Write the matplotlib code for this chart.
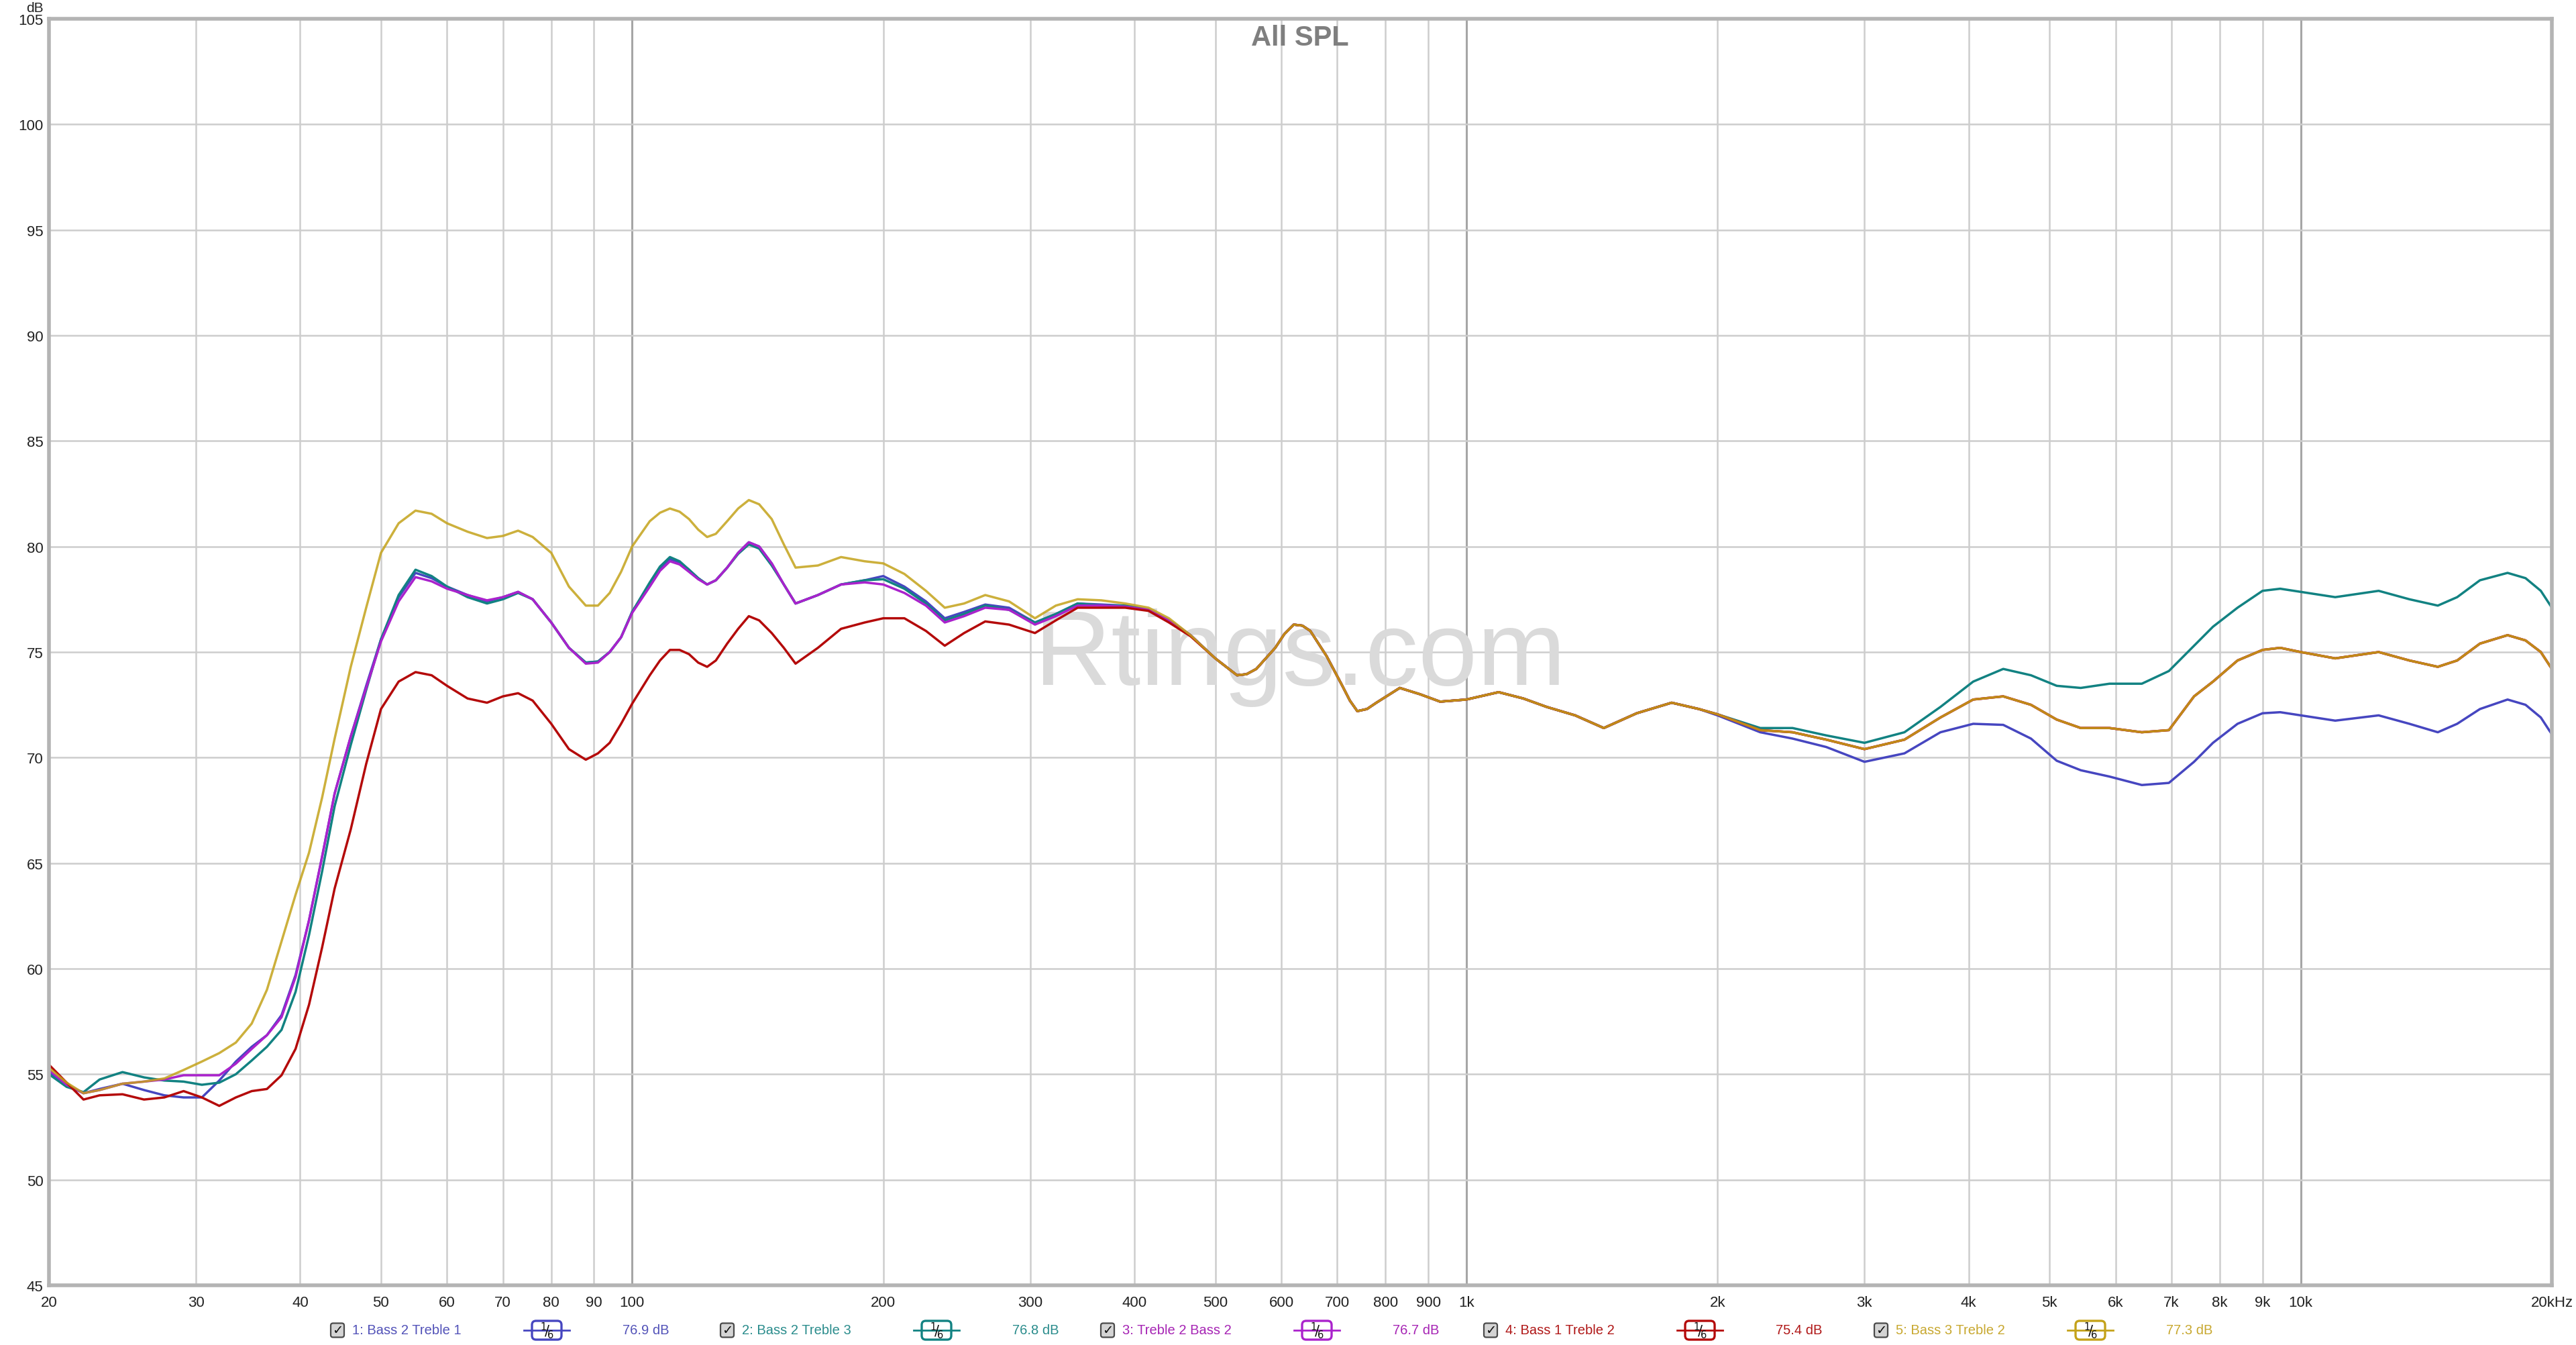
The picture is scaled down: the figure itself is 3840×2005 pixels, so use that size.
import matplotlib
matplotlib.use('Agg')
import matplotlib.pyplot as plt
from matplotlib.patches import FancyBboxPatch
from matplotlib.lines import Line2D
from matplotlib.ticker import FixedLocator, NullLocator

W, H = 3840, 2006
sans = ['Liberation Sans', 'DejaVu Sans']

# frequency points (Hz)
freq_low = [20, 21, 22, 23, 24.5, 26, 27.5, 29, 30.5, 32, 33.5, 35, 36.5, 38, 39.5,
            41, 42.5, 44, 46, 48, 50, 52.5, 55, 57.5, 60,
            63.5, 67, 70, 73, 76, 80, 84, 88, 91, 94,
            97, 100, 105, 108, 111, 114, 117, 120, 123, 126, 130, 134, 138, 142, 147, 152, 157,
            167, 178, 190, 200, 212, 225, 237, 250, 265, 283,
            304, 322, 342, 365, 390, 416, 440, 467]
freq_mid = [500, 531, 545, 560, 590, 605, 621, 636, 650, 680, 710, 725, 740, 760, 780, 832, 880,
            930, 1000, 1093, 1170, 1248, 1350, 1461, 1600, 1762, 1900]
freq_high = [2000, 2250, 2460, 2700, 3000, 3350, 3700, 4050, 4400, 4750,
             5100, 5450, 5900, 6450, 6950, 7450, 7850, 8400, 9000, 9450,
             10000, 11000, 12400, 13500, 14600, 15400, 16400, 17700, 18600, 19400, 20000]
freqs = freq_low + freq_mid + freq_high

# all five curves coincide in the mid band
shared_mid = [74.7, 73.9, 73.95, 74.2, 75.2, 75.85, 76.3, 76.25, 76.0, 74.8, 73.4, 72.7, 72.2,
              72.3, 72.6, 73.3, 73.0, 72.65, 72.75, 73.1, 72.8, 72.4, 72.0, 71.4, 72.1, 72.6, 72.3]

blue_low = [55.1, 54.5, 54.1, 54.3, 54.55, 54.25, 54.0, 53.9, 53.9, 54.7, 55.6, 56.3, 56.85, 57.8, 59.7,
            62.3, 65.3, 68.3, 71.0, 73.4, 75.6, 77.6, 78.75, 78.5, 78.1,
            77.7, 77.4, 77.6, 77.85, 77.5, 76.4, 75.2, 74.5, 74.55, 75.0,
            75.7, 76.9, 78.2, 78.95, 79.4, 79.25, 78.9, 78.5, 78.2, 78.4, 79.0, 79.7, 80.2, 80.0, 79.2, 78.2, 77.3,
            77.7, 78.2, 78.4, 78.6, 78.1, 77.4, 76.6, 76.9, 77.25, 77.1,
            76.4, 76.8, 77.3, 77.25, 77.2, 77.0, 76.5, 75.8]
teal_low = [55.0, 54.4, 54.15, 54.75, 55.1, 54.85, 54.7, 54.65, 54.5, 54.6, 55.0, 55.65, 56.3, 57.1, 58.9,
            61.6, 64.6, 67.7, 70.6, 73.2, 75.6, 77.7, 78.9, 78.6, 78.1,
            77.6, 77.3, 77.5, 77.8, 77.5, 76.4, 75.2, 74.5, 74.55, 75.0,
            75.7, 76.9, 78.3, 79.05, 79.5, 79.3, 78.9, 78.5, 78.2, 78.4, 79.0, 79.65, 80.1, 79.9, 79.1, 78.2, 77.3,
            77.7, 78.2, 78.4, 78.45, 78.0, 77.3, 76.5, 76.8, 77.2, 77.0,
            76.4, 76.8, 77.3, 77.2, 77.2, 77.0, 76.5, 75.8]
magenta_low = [55.2, 54.5, 54.1, 54.25, 54.55, 54.65, 54.75, 54.95, 54.95, 54.95, 55.5, 56.2, 56.85, 57.7, 59.6,
               62.3, 65.3, 68.3, 71.0, 73.3, 75.5, 77.4, 78.55, 78.35, 78.0,
               77.7, 77.45, 77.6, 77.85, 77.5, 76.4, 75.2, 74.45, 74.5, 75.0,
               75.7, 76.85, 78.1, 78.85, 79.3, 79.15, 78.8, 78.45, 78.2, 78.4, 79.0, 79.7, 80.2, 80.0, 79.2, 78.2, 77.3,
               77.7, 78.2, 78.3, 78.2, 77.8, 77.2, 76.4, 76.7, 77.1, 77.0,
               76.3, 76.7, 77.2, 77.2, 77.15, 77.0, 76.5, 75.8]
red_low = [55.45, 54.6, 53.8, 54.0, 54.05, 53.8, 53.9, 54.2, 53.9, 53.5, 53.9, 54.2, 54.3, 54.95, 56.2,
           58.3, 61.0, 63.8, 66.6, 69.7, 72.3, 73.6, 74.05, 73.9, 73.4,
           72.8, 72.6, 72.9, 73.05, 72.7, 71.6, 70.4, 69.9, 70.2, 70.7,
           71.6, 72.55, 73.9, 74.6, 75.1, 75.1, 74.9, 74.5, 74.3, 74.6, 75.4, 76.1, 76.7, 76.5, 75.9, 75.2, 74.45,
           75.2, 76.1, 76.4, 76.6, 76.6, 76.0, 75.3, 75.9, 76.45, 76.3,
           75.9, 76.5, 77.1, 77.1, 77.1, 76.95, 76.4, 75.75]
gold_low = [55.3, 54.6, 54.1, 54.25, 54.55, 54.65, 54.8, 55.2, 55.6, 56.0, 56.5, 57.4, 59.0, 61.3, 63.5,
            65.5, 68.1, 70.9, 74.3, 77.1, 79.7, 81.1, 81.7, 81.55, 81.1,
            80.7, 80.4, 80.5, 80.75, 80.45, 79.7, 78.1, 77.2, 77.2, 77.8,
            78.8, 80.0, 81.2, 81.6, 81.8, 81.65, 81.3, 80.8, 80.45, 80.6, 81.2, 81.8, 82.2, 82.0, 81.3, 80.1, 79.0,
            79.1, 79.5, 79.3, 79.2, 78.7, 77.9, 77.1, 77.3, 77.7, 77.4,
            76.6, 77.2, 77.5, 77.45, 77.3, 77.1, 76.6, 75.8]

treble1_high = [72.0, 71.2, 70.9, 70.5, 69.8, 70.2, 71.2, 71.6, 71.55, 70.9,
                69.85, 69.4, 69.1, 68.7, 68.8, 69.8, 70.7, 71.6, 72.1, 72.15,
                72.0, 71.75, 72.0, 71.6, 71.2, 71.6, 72.3, 72.75, 72.5, 71.9, 71.1]
treble3_high = [72.05, 71.4, 71.4, 71.05, 70.7, 71.2, 72.4, 73.6, 74.2, 73.9,
                73.4, 73.3, 73.5, 73.5, 74.1, 75.3, 76.2, 77.1, 77.9, 78.0,
                77.85, 77.6, 77.9, 77.5, 77.2, 77.6, 78.4, 78.75, 78.5, 77.9, 77.1]
treble2_high = [72.05, 71.3, 71.2, 70.85, 70.4, 70.85, 71.9, 72.75, 72.9, 72.5,
                71.8, 71.4, 71.4, 71.2, 71.3, 72.9, 73.6, 74.6, 75.1, 75.2,
                75.0, 74.7, 75.0, 74.6, 74.3, 74.6, 75.4, 75.8, 75.55, 75.0, 74.2]

names = ['1: Bass 2 Treble 1', '2: Bass 2 Treble 3', '3: Treble 2 Bass 2',
         '4: Bass 1 Treble 2', '5: Bass 3 Treble 2']
averages = ['76.9 dB', '76.8 dB', '76.7 dB', '75.4 dB', '77.3 dB']
line_colors = ['#4646c0', '#128282', '#aa22cc', '#b40a0a', '#c4a21a']
text_colors = ['#5252b8', '#2a8c8c', '#a624b4', '#b01818', '#c8a830']
curves = [blue_low + shared_mid + treble1_high,
          teal_low + shared_mid + treble3_high,
          magenta_low + shared_mid + treble2_high,
          red_low + shared_mid + treble2_high,
          gold_low + shared_mid + treble2_high]

xticks = [20, 30, 40, 50, 60, 70, 80, 90, 100, 200, 300, 400, 500, 600, 700, 800, 900,
          1000, 2000, 3000, 4000, 5000, 6000, 7000, 8000, 9000, 10000, 20000]
xlabels = ['20', '30', '40', '50', '60', '70', '80', '90', '100', '200', '300', '400', '500',
           '600', '700', '800', '900', '1k', '2k', '3k', '4k', '5k', '6k', '7k', '8k', '9k',
           '10k', '20kHz']
yticks = [45, 50, 55, 60, 65, 70, 75, 80, 85, 90, 95, 100, 105]

fig = plt.figure(figsize=(W / 100, H / 100), dpi=100)
ax = fig.add_axes([73 / W, (H - 1917) / H, (3804 - 73) / W, (1917 - 29) / H])
ax.set_xscale('log')
ax.set_xlim(20, 20000)
ax.set_ylim(45, 105)

for f in xticks:
    dark = f in (100, 1000, 10000)
    ax.axvline(f, color='#a6a6a6' if dark else '#cdcdcd', lw=2.2 if dark else 1.8, zorder=0.4)
for v in yticks:
    ax.axhline(v, color='#cdcdcd', lw=1.8, zorder=0.4)

ax.xaxis.set_major_locator(FixedLocator(xticks))
ax.xaxis.set_minor_locator(NullLocator())
ax.set_xticklabels(xlabels)
ax.set_yticks(yticks)
ax.set_yticklabels([str(v) for v in yticks])
ax.tick_params(axis='both', length=0, labelsize=16, colors='#222222')
ax.tick_params(axis='x', pad=11)
ax.tick_params(axis='y', pad=6)
for lab in ax.get_xticklabels() + ax.get_yticklabels():
    lab.set_family(sans)
for sp in ax.spines.values():
    sp.set_color('#b4b4b4')
    sp.set_linewidth(4)

ax.text(0.5, 0.496, 'Rtings.com', transform=ax.transAxes, ha='center', va='center',
        fontsize=114, color='#dadada', family=sans, zorder=0.6)

for i, vals in enumerate(curves):
    ax.plot(freqs, vals, color=line_colors[i], lw=2.5, alpha=0.85 if i == 4 else 1.0,
            zorder=2 + i * 0.1, solid_capstyle='round', solid_joinstyle='round')

fig.text(1938 / W, 1 - 57 / H, 'All SPL', ha='center', va='center', fontsize=30,
         weight='bold', color='#7f7f7f', family=sans)
fig.text(65 / W, 1 - 12 / H, 'dB', ha='right', va='center', fontsize=15,
         color='#222222', family=sans)

# legend row, laid out in pixels
tr = fig.dpi_scale_trans
row_y = (H - 1984) / 100
check_x = [503, 1084, 1651, 2222, 2804]
for i, cx in enumerate(check_x):
    box = FancyBboxPatch(((cx - 10) / 100, row_y - 0.105), 0.20, 0.21,
                         boxstyle='round,pad=0,rounding_size=0.035',
                         fc='#d4d4d4', ec='#4a4a4a', lw=1.6, transform=tr)
    fig.add_artist(box)
    fig.text(cx / 100, row_y, '\u2713', transform=tr, ha='center', va='center',
             fontsize=14, weight='bold', color='#111111', family='DejaVu Sans')
    fig.text((cx + 22) / 100, row_y, names[i], transform=tr, ha='left', va='center',
             fontsize=14.5, color=text_colors[i], family=sans)
    bx = cx + 312
    fig.add_artist(Line2D([(bx - 34) / 100, (bx + 34) / 100], [row_y, row_y],
                          color=line_colors[i], lw=2, transform=tr))
    badge = FancyBboxPatch(((bx - 22) / 100, row_y - 0.14), 0.44, 0.28,
                           boxstyle='round,pad=0,rounding_size=0.06',
                           fc='white', ec=line_colors[i], lw=2.4, transform=tr)
    fig.add_artist(badge)
    fig.text(bx / 100, row_y, r'$^{1}\!/\!_{6}$', transform=tr, ha='center', va='center',
             fontsize=15, color='#111111')
    fig.text((cx + 460) / 100, row_y, averages[i], transform=tr, ha='center', va='center',
             fontsize=14.5, color=text_colors[i], family=sans)

fig.savefig('out.png', dpi=100, facecolor='white')
